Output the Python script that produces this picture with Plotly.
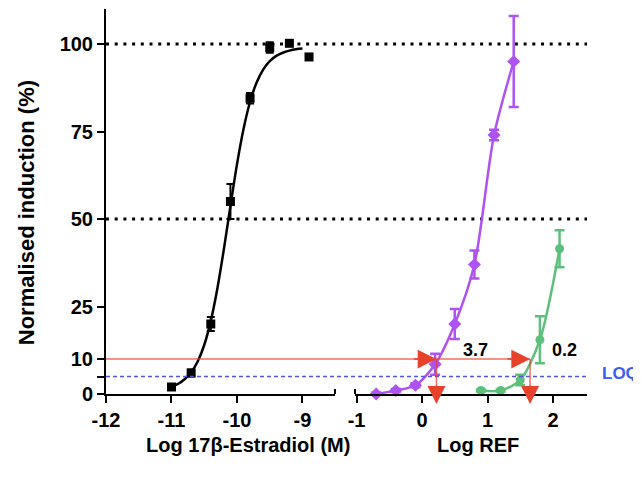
import plotly.graph_objects as go

# ---------------- data ----------------
e2_x = [-11.0, -10.7, -10.4, -10.1, -9.8, -9.5, -9.2, -8.9]
e2_y = [2.0, 6.0, 20.0, 55.0, 84.5, 99.0, 100.2, 96.3]
e2_err = [0.5, 1.0, 2.0, 5.0, 1.5, 1.5, 0.5, 0.0]

e2_fit_x = [-11.0, -10.9, -10.8, -10.7, -10.6, -10.5, -10.4, -10.3, -10.2, -10.1,
            -10.0, -9.9, -9.8, -9.7, -9.6, -9.5, -9.4, -9.3, -9.2, -9.1, -9.0]
e2_fit_y = [2.2, 2.9, 4.2, 6.2, 9.3, 14.0, 20.9, 30.1, 41.4, 53.7,
            65.6, 75.7, 83.5, 89.0, 92.7, 95.1, 96.6, 97.5, 98.1, 98.5, 98.7]

ref_a_x = [-0.7, -0.4, -0.1, 0.2, 0.5, 0.8, 1.1, 1.4]
ref_a_y = [0.0, 1.0, 2.5, 8.5, 20.0, 37.0, 74.0, 95.0]
ref_a_err = [0.4, 0.4, 0.6, 3.0, 4.3, 4.0, 1.5, 13.0]

ref_b_x = [0.9, 1.2, 1.5, 1.8, 2.1]
ref_b_y = [1.0, 1.0, 4.0, 15.5, 41.5]
ref_b_err = [0.3, 0.3, 1.5, 6.7, 5.3]

ec10_x = [0.22, 1.65]          # where each REF curve crosses 10 %
ec10_labels = ["3.7", "0.2"]
ec10_label_x = [0.81, 2.18]
threshold = 10
loq = 5
grid_levels = [50, 100]

y_ticks = [0, 5, 10, 25, 50, 75, 100]
y_ticktext = ["0", "", "10", "25", "50", "75", "100"]
x1_ticks = [-12, -11, -10, -9]
x2_ticks = [-1, 0, 1, 2]

# ---------------- layout geometry ----------------
X1_RANGE = [-12, -8.504]
X2_RANGE = [-1.023, 2.519]
Y_RANGE = [0, 110]
D1 = [0, 0.476]
D2 = [0.5177, 1]

def x2_to_paper(v):
    return D2[0] + (v - X2_RANGE[0]) / (X2_RANGE[1] - X2_RANGE[0]) * (D2[1] - D2[0])

BOLD = dict(family="Liberation Sans, Arial, sans-serif", weight="bold", color="black")
PURPLE = "#ae52f2"
GREEN = "#5dbf7c"
RED = "#e8412c"
RED_LINE = "rgba(232,65,44,0.75)"
BLUE = "#5056e6"

fig = go.Figure()

# E2 fit curve
fig.add_trace(go.Scatter(x=e2_fit_x, y=e2_fit_y, mode="lines", xaxis="x", yaxis="y",
                         line=dict(color="black", width=2.5, shape="spline"),
                         hoverinfo="skip", showlegend=False))
# E2 data
fig.add_trace(go.Scatter(x=e2_x, y=e2_y, mode="markers", xaxis="x", yaxis="y",
                         marker=dict(symbol="square", size=9, color="black"),
                         error_y=dict(type="data", array=e2_err, color="black",
                                      thickness=2, width=4),
                         showlegend=False))
# REF A (purple)
fig.add_trace(go.Scatter(x=ref_a_x, y=ref_a_y, mode="lines+markers", xaxis="x2", yaxis="y",
                         line=dict(color=PURPLE, width=2.5, shape="spline", smoothing=0.8),
                         marker=dict(symbol="diamond", size=10, color=PURPLE),
                         error_y=dict(type="data", array=ref_a_err, color=PURPLE,
                                      thickness=2.5, width=5),
                         cliponaxis=False, showlegend=False))
# REF B (green)
fig.add_trace(go.Scatter(x=ref_b_x, y=ref_b_y, mode="lines+markers", xaxis="x2", yaxis="y",
                         line=dict(color=GREEN, width=2.5, shape="spline", smoothing=0.8),
                         marker=dict(symbol="circle", size=9, color=GREEN),
                         error_y=dict(type="data", array=ref_b_err, color=GREEN,
                                      thickness=2.5, width=5),
                         cliponaxis=False, showlegend=False))

shapes = []
# dotted reference levels
for lv in grid_levels:
    shapes.append(dict(type="line", xref="paper", yref="y", x0=0, x1=1, y0=lv, y1=lv,
                       line=dict(color="black", width=3, dash="3px,5.7px"), layer="below"))
# LOQ line
shapes.append(dict(type="line", xref="paper", yref="y", x0=0, x1=1, y0=loq, y1=loq,
                   line=dict(color=BLUE, width=1.5, dash="4px,3px")))
# red threshold line to the last crossing
shapes.append(dict(type="line", xref="paper", yref="y", x0=0, x1=x2_to_paper(ec10_x[-1]),
                   y0=threshold, y1=threshold, line=dict(color=RED_LINE, width=1.5)))
# vertical drop lines
for xv in ec10_x:
    shapes.append(dict(type="line", xref="x2", yref="y", x0=xv, x1=xv, y0=threshold, y1=0,
                       line=dict(color=RED_LINE, width=1.5)))
# axis break caps
shapes.append(dict(type="line", xref="x domain", yref="y", ysizemode="pixel", yanchor=0,
                   x0=1, x1=1, y0=-5, y1=5, line=dict(color="black", width=2)))
shapes.append(dict(type="line", xref="x2 domain", yref="y", ysizemode="pixel", yanchor=0,
                   x0=0, x1=0, y0=-5, y1=5, line=dict(color="black", width=2)))

annotations = []
for xv in ec10_x:
    # horizontal arrow head
    annotations.append(dict(x=xv, y=threshold, xref="x2", yref="y", ax=-24, ay=0,
                            showarrow=True, arrowhead=2, arrowsize=2.5, arrowwidth=1.5,
                            arrowcolor=RED, text="", standoff=0))
    # downward arrow head (tip just below the axis)
    annotations.append(dict(x=xv, y=0.3, xref="x2", yref="y", ax=0, ay=-20, yshift=-11,
                            showarrow=True, arrowhead=2, arrowsize=2.4, arrowwidth=1.5,
                            arrowcolor=RED, text="", standoff=0))
for xv, lab in zip(ec10_label_x, ec10_labels):
    annotations.append(dict(x=xv, y=12.6, xref="x2", yref="y", text=lab, showarrow=False,
                            font=dict(BOLD, size=18), xanchor="center", yanchor="middle"))

annotations.append(dict(x=1.027, y=loq + 0.8, xref="paper", yref="y", text="LOQ",
                        showarrow=False, xanchor="left", yanchor="middle",
                        font=dict(BOLD, size=17, color="#3b5cf2")))
annotations.append(dict(x=-0.166, y=0.47, xref="paper", yref="paper",
                        text="Normalised induction (%)", textangle=-90, showarrow=False,
                        xanchor="center", yanchor="middle", font=dict(BOLD, size=22)))
annotations.append(dict(x=0.295, y=-0.132, xref="paper", yref="paper",
                        text="Log 17β-Estradiol (M)", showarrow=False,
                        xanchor="center", yanchor="middle", font=dict(BOLD, size=20)))
annotations.append(dict(x=0.773, y=-0.132, xref="paper", yref="paper",
                        text="Log REF", showarrow=False,
                        xanchor="center", yanchor="middle", font=dict(BOLD, size=20)))

axis_common = dict(showgrid=False, zeroline=False, showline=True, linecolor="black",
                   linewidth=2, ticks="outside", ticklen=7, tickwidth=2, tickcolor="black",
                   tickfont=dict(BOLD, size=20), tickmode="array")

# page body has an 8px default margin: size the figure so the plot area
# lands at the same pixels as the reference inside the 641x488 window
fig.update_layout(
    width=633, height=480,
    margin=dict(l=98, r=54, t=1, b=94),
    paper_bgcolor="white", plot_bgcolor="white",
    xaxis=dict(axis_common, domain=D1, range=X1_RANGE, tickvals=x1_ticks,
               ticktext=[str(v) for v in x1_ticks], anchor="y"),
    xaxis2=dict(axis_common, domain=D2, range=X2_RANGE, tickvals=x2_ticks,
                ticktext=[str(v) for v in x2_ticks], anchor="y"),
    yaxis=dict(axis_common, range=Y_RANGE, tickvals=y_ticks, ticktext=y_ticktext,
               anchor="x"),
    shapes=shapes, annotations=annotations, showlegend=False,
)

fig.write_html("out.html")
